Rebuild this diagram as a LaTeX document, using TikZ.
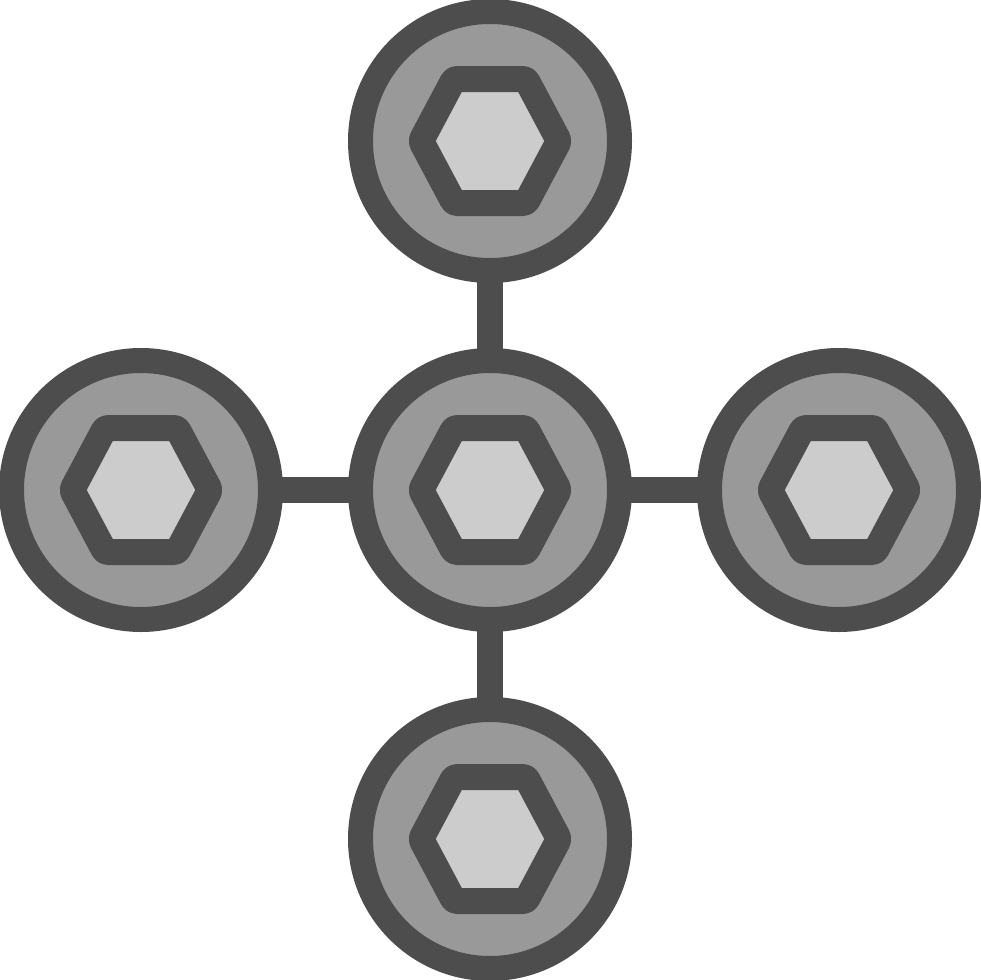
\documentclass[tikz,border=0pt]{standalone}
\usetikzlibrary{backgrounds}
\definecolor{ink}{HTML}{4D4D4D}
\definecolor{ringfill}{HTML}{999999}
\definecolor{hexfill}{HTML}{CCCCCC}
\begin{document}
\begin{tikzpicture}[x=1pt,y=-1pt,
  disc/.style={circle, draw=ink, fill=ringfill, line width=25pt, minimum size=259pt, inner sep=0pt},
  link/.style={draw=ink, line width=26pt},
  hexa/.style={draw=ink, fill=hexfill, line width=26pt, rounded corners=3pt, line join=round}]
\useasboundingbox (0,0) rectangle (980,980);
\node[disc] (c) at (490,490) {};
\node[disc] (t) at (490,141) {};
\node[disc] (b) at (490,839) {};
\node[disc] (l) at (141,490) {};
\node[disc] (r) at (839,490) {};
\begin{scope}[on background layer]
\draw[link] (c.center) -- (t.center);
\draw[link] (c.center) -- (b.center);
\draw[link] (c.center) -- (l.center);
\draw[link] (c.center) -- (r.center);
\end{scope}
\foreach \n in {c,t,b,l,r}
  \draw[hexa, shift={(\n.center)}] (0,-62) -- (36,-62) -- (69,0) -- (36,62) -- (-36,62) -- (-69,0) -- (-36,-62) -- cycle;
\end{tikzpicture}
\end{document}
